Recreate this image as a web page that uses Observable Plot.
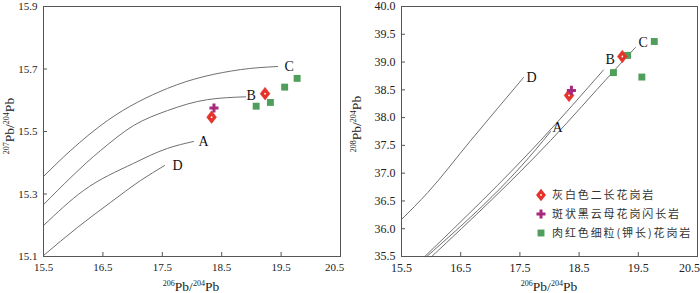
<!DOCTYPE html>
<html><head><meta charset="utf-8">
<script src="https://cdn.jsdelivr.net/npm/d3@7"></script>
<script src="https://cdn.jsdelivr.net/npm/@observablehq/plot@0.6"></script>
<style>
body{margin:0;background:#fff;}
#wrap{display:flex;width:700px;height:293px;overflow:hidden;}
#wrap svg{overflow:visible;}
</style></head><body><div id="wrap"></div>
<script>
// ---- tick labels ----
const xTicks = [15.5, 16.5, 17.5, 18.5, 19.5, 20.5];
const y207Ticks = [15.1, 15.3, 15.5, 15.7, 15.9];
const y208Ticks = [35.5, 36.0, 36.5, 37.0, 37.5, 38.0, 38.5, 39.0, 39.5, 40.0];

// ---- sample groups ----
const groupNames = ["灰白色二长花岗岩", "斑状黑云母花岗闪长岩", "肉红色细粒(钾长)花岗岩"];
const redX = [18.33, 19.23];
const redY207 = [15.546, 15.621];
const redY208 = [38.40, 39.10];
const purX = [18.37];
const purY207 = [15.575];
const purY208 = [38.49];
const grnX = [19.08, 19.32, 19.56, 19.77];
const grnY207 = [15.581, 15.593, 15.642, 15.670];
const grnY208 = [38.81, 39.12, 38.73, 39.37];

// ---- model curves (206Pb/204Pb, 207Pb/204Pb) ----
const curveNames = ["A", "B", "C", "D"];
const curveA207 = [[15.5, 15.199], [16.173, 15.311], [17.015, 15.398], [17.588, 15.446], [18.025, 15.468]];
const curveB207 = [[15.5, 15.266], [16.46, 15.439], [17.016, 15.519], [17.588, 15.567], [18.262, 15.602], [18.902, 15.611]];
const curveC207 = [[15.5, 15.356], [15.955, 15.439], [16.577, 15.535], [17.588, 15.638], [18.816, 15.698], [19.44, 15.708]];
const curveD207 = [[15.5, 15.103], [16.072, 15.193], [16.628, 15.273], [17.133, 15.343], [17.537, 15.391]];
// ---- model curves (206Pb/204Pb, 208Pb/204Pb) ----
const curveA208 = [[15.927, 35.5], [17.895, 37.588], [18.018, 37.75]];
const curveB208 = [[15.893, 35.5], [17.849, 37.588], [18.911, 38.857]];
const curveC208 = [[16.011, 35.5], [18.018, 37.588], [19.063, 38.812], [19.451, 39.262]];
const curveD208 = [[15.5, 36.166], [15.944, 36.652], [16.669, 37.588], [17.562, 38.722]];

const RED = "#e5332a", PUR = "#a8287c", GRN = "#4f9e5b", LINE = "#707070", FRAME = "#555";
const diamond = {draw(ctx, size) {const s = Math.sqrt(size); const h = s * 0.62, w = s * 0.48;
  ctx.moveTo(0, -h); ctx.lineTo(w, 0); ctx.lineTo(0, h); ctx.lineTo(-w, 0); ctx.closePath();}};

function pts(xs, ys) { return xs.map((x, i) => ({x, y: ys[i]})); }

function panel(o) {
  const H = 293, mt = 6, mb = 37;
  const ih = H - mt - mb, iw = 350 - o.ml - o.mr;
  const curves = o.curves;
  const lbl = o.labelOff;
  const fmt = d3.format(".1f");
  const marks = [
    ...curves.map(c => Plot.line(c, {x: d => d[0], y: d => d[1], curve: "monotone-x", stroke: LINE, strokeWidth: 1})),
    ...curves.map((c, i) => Plot.text([c[c.length - 1]], {x: d => d[0], y: d => d[1], text: () => curveNames[i],
      dx: lbl[i][0], dy: lbl[i][1], textAnchor: "start", fontSize: 14, fill: "#111", fontFamily: "Liberation Serif"})),
    Plot.dot(pts(grnX, o.gy), {x: "x", y: "y", symbol: "square", r: 3.9, fill: GRN}),
    Plot.dot(pts(redX, o.ry), {x: "x", y: "y", symbol: diamond, r: 5.8, fill: RED, stroke: RED, strokeWidth: 0.5}),
    Plot.dot(pts(redX, o.ry), {x: "x", y: "y", r: 0.9, fill: "#fff"}),
    Plot.dot(pts(purX, o.py), {x: "x", y: "y", symbol: "cross", r: 3.8, fill: PUR}),
    Plot.tickX(xTicks, {x: d => d, insetTop: ih - 4, stroke: FRAME}),
    Plot.tickY(o.yTicks, {y: d => d, insetRight: iw - 4, stroke: FRAME}),
    Plot.axisX(xTicks.slice(0, -1), {tickSize: 0, tickPadding: 7, tickFormat: fmt, fontSize: o.fs}),
    Plot.axisX(xTicks.slice(-1), {tickSize: 0, tickPadding: 7, tickFormat: fmt, fontSize: o.fs, dx: o.lastDx}),
    Plot.axisY(o.yTicks, {tickSize: 0, tickPadding: 6, tickFormat: fmt, fontSize: o.fs}),
    Plot.frame({stroke: FRAME, strokeWidth: 1})
  ];
  const svg = Plot.plot({
    width: 350, height: H, marginLeft: o.ml, marginRight: o.mr, marginTop: mt, marginBottom: mb,
    x: {domain: [15.5, 20.5], label: null},
    y: {domain: o.yDomain, label: null},
    style: {fontFamily: "Liberation Serif", fontSize: o.fs + "px", color: "#222", background: "#fff"},
    marks
  });
  return svg;
}

function supLabel(svg, x, y, rot, parts) {
  const t = d3.select(svg).append("text")
    .attr("transform", `translate(${x},${y}) rotate(${rot})`)
    .attr("text-anchor", "middle").attr("font-family", "Liberation Serif")
    .attr("font-size", 13.5).attr("fill", "#222");
  t.append("tspan").attr("font-size", 8).attr("dy", -5).text(parts[0]);
  t.append("tspan").attr("dy", 5).text(parts[1]);
  t.append("tspan").attr("font-size", 8).attr("dy", -5).text(parts[2]);
  t.append("tspan").attr("dy", 5).text(parts[3]);
}

const wrap = document.getElementById("wrap");
const left = panel({ml: 43, mr: 10, yDomain: [15.1, 15.9], yTicks: y207Ticks, fs: 11, lastDx: -6,
  curves: [curveA207, curveB207, curveC207, curveD207],
  labelOff: [[5, 0], [1, -1], [7, 0], [8, 0]],
  ry: redY207, py: purY207, gy: grnY207});
const right = panel({ml: 51, mr: 3, yDomain: [35.5, 40], yTicks: y208Ticks, fs: 12, lastDx: -8,
  curves: [curveA208, curveB208, curveC208, curveD208],
  labelOff: [[2, -4], [2, -10], [3, -5], [3, 0]],
  ry: redY208, py: purY208, gy: grnY208});
wrap.appendChild(left);
wrap.appendChild(right);

supLabel(left, 191, 291, 0, ["206", "Pb/", "204", "Pb"]);
supLabel(left, 14, 126, -90, ["207", "Pb/", "204", "Pb"]);
supLabel(right, 199, 291, 0, ["206", "Pb/", "204", "Pb"]);
supLabel(right, 11, 124, -90, ["208", "Pb/", "204", "Pb"]);

// legend (inside right panel)
const lg = d3.select(right).append("g").attr("transform", "translate(191,195)").attr("text-anchor", "start");
const syms = [
  {p: d3.symbol(diamond, Math.PI * 5.8 * 5.8)(), fill: RED, dot: true},
  {p: d3.symbol(d3.symbolCross, Math.PI * 3.8 * 3.8)(), fill: PUR},
  {p: d3.symbol(d3.symbolSquare, Math.PI * 3.9 * 3.9)(), fill: GRN}
];
const rowY = [0, 19, 38];
groupNames.forEach((name, i) => {
  const g = lg.append("g").attr("transform", `translate(0,${rowY[i]})`);
  g.append("path").attr("d", syms[i].p).attr("fill", syms[i].fill);
  if (syms[i].dot) g.append("circle").attr("r", 0.9).attr("fill", "#fff");
  g.append("text").attr("x", 11).attr("y", 4.2).attr("text-anchor", "start").attr("font-family", "Noto Sans CJK SC")
    .attr("font-size", 11).attr("letter-spacing", "1.9px").attr("fill", "#333").text(name);
});
</script></body></html>
